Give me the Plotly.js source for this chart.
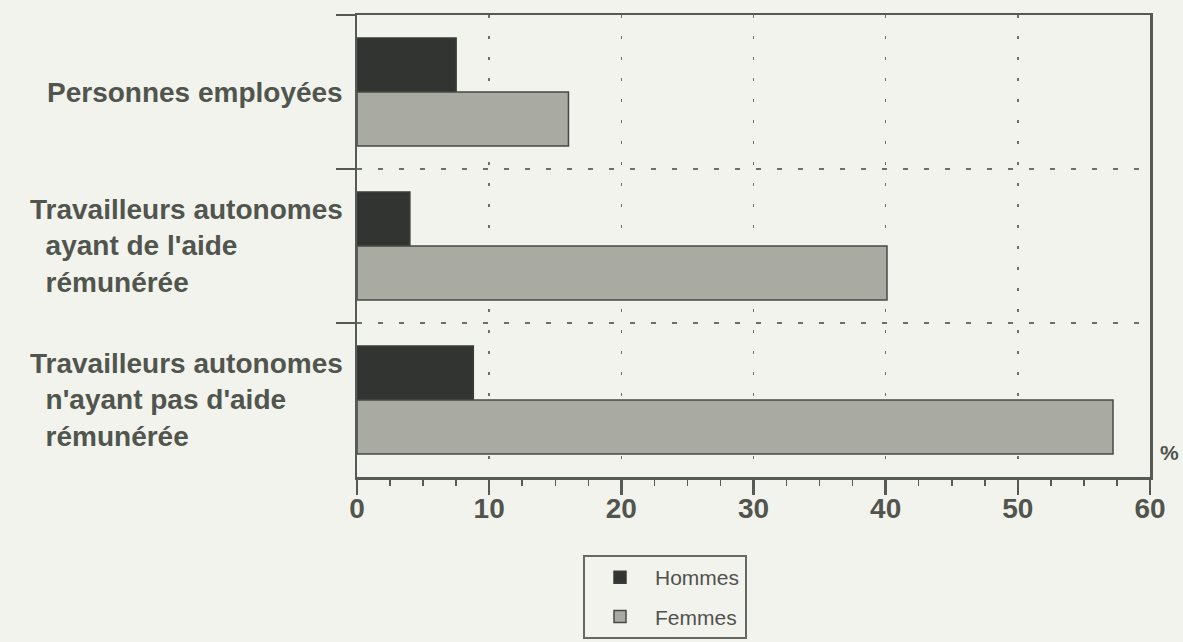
<!DOCTYPE html>
<html>
<head>
<meta charset="utf-8">
<script src="https://cdn.plot.ly/plotly-3.0.1.min.js"></script>
<style>html,body{margin:0;padding:0;background:#f3f3ee;}#chart{width:1183px;height:642px;}</style>
</head>
<body>
<div id="chart"></div>
<script>
// Data
const categories = ["Personnes employées", "Travailleurs autonomes ayant de l'aide rémunérée", "Travailleurs autonomes n'ayant pas d'aide rémunérée"];
const labelFirstLine = ["Personnes employées", "Travailleurs autonomes", "Travailleurs autonomes"];
const labelOtherLines = [[], ["ayant de l'aide", "rémunérée"], ["n'ayant pas d'aide", "rémunérée"]];
const hommes = [7.5, 4.0, 8.8];
const femmes = [16.0, 40.1, 57.2];
const seriesNames = ["Hommes", "Femmes"];
const xTicks = [0, 10, 20, 30, 40, 50, 60];
const unitLabel = "%";

const ink = "#50554d";
const axisCol = "#555a54";
const font = "Liberation Sans, Arial, Helvetica, sans-serif";

const traces = [
  {type: "bar", orientation: "h", name: seriesNames[0], y: categories, x: hommes,
   marker: {color: "#313431", line: {color: "#3a3d39", width: 1.5}}, legendgroup: "h", hoverinfo: "x"},
  {type: "bar", orientation: "h", name: seriesNames[1], y: categories, x: femmes,
   marker: {color: "#a9aba2", line: {color: "#464944", width: 1.5}}, legendgroup: "f", hoverinfo: "x"}
];

const ind = "\u00a0\u00a0";
const annotations = categories.map((c, i) => ({
  xref: "paper", yref: "y", x: -0.015, y: c, xanchor: "right", yanchor: "middle",
  align: "left", showarrow: false,
  text: [labelFirstLine[i]].concat(labelOtherLines[i].map(s => ind + s)).join("<br>"),
  font: {family: font, size: 28, color: ink, weight: "bold"}
}));
annotations.push({
  xref: "paper", yref: "paper", x: 1.01, y: 0.052, xanchor: "left", yanchor: "middle",
  showarrow: false, text: unitLabel,
  font: {family: font, size: 21, color: ink, weight: "bold"}
});

const layout = {
  width: 1183, height: 642,
  paper_bgcolor: "#f3f3ee", plot_bgcolor: "#f3f3ee",
  margin: {l: 357, r: 33, t: 15, b: 165, autoexpand: false},
  barmode: "group", bargap: 0.3, bargroupgap: 0,
  showlegend: true,
  legend: {x: 0.285, y: -0.169, xanchor: "left", yanchor: "top",
    bordercolor: "#666963", borderwidth: 2, bgcolor: "rgba(0,0,0,0)",
    traceorder: "grouped", tracegroupgap: 9, itemwidth: 60,
    font: {family: font, size: 21, color: "#4f524d"}},
  xaxis: {range: [0, 60], tickvals: xTicks, ticktext: xTicks.map(String),
    ticks: "outside", ticklen: 15, tickwidth: 2.5, tickcolor: axisCol,
    showline: true, linecolor: axisCol, linewidth: 2.5, mirror: true,
    showgrid: true, gridcolor: "#6d706a", gridwidth: 1.5, griddash: "3px,18px",
    zeroline: false, ticklabelstandoff: -10, automargin: false,
    minor: {dtick: 2.5, ticks: "outside", ticklen: 6, tickwidth: 1.5, tickcolor: axisCol, showgrid: false},
    tickfont: {family: font, size: 28, color: ink, weight: "bold"}, fixedrange: true},
  yaxis: {type: "category", autorange: "reversed", tickson: "boundaries",
    ticks: "outside", ticklen: 19, tickwidth: 2.5, tickcolor: axisCol,
    showticklabels: false, automargin: false,
    showline: true, linecolor: axisCol, linewidth: 2.5, mirror: true,
    showgrid: true, gridcolor: "#6d706a", gridwidth: 1.5, griddash: "5px,16px",
    zeroline: false, fixedrange: true},
  annotations: annotations
};

Plotly.newPlot("chart", traces, layout, {displayModeBar: false, staticPlot: true});
</script>
</body>
</html>
